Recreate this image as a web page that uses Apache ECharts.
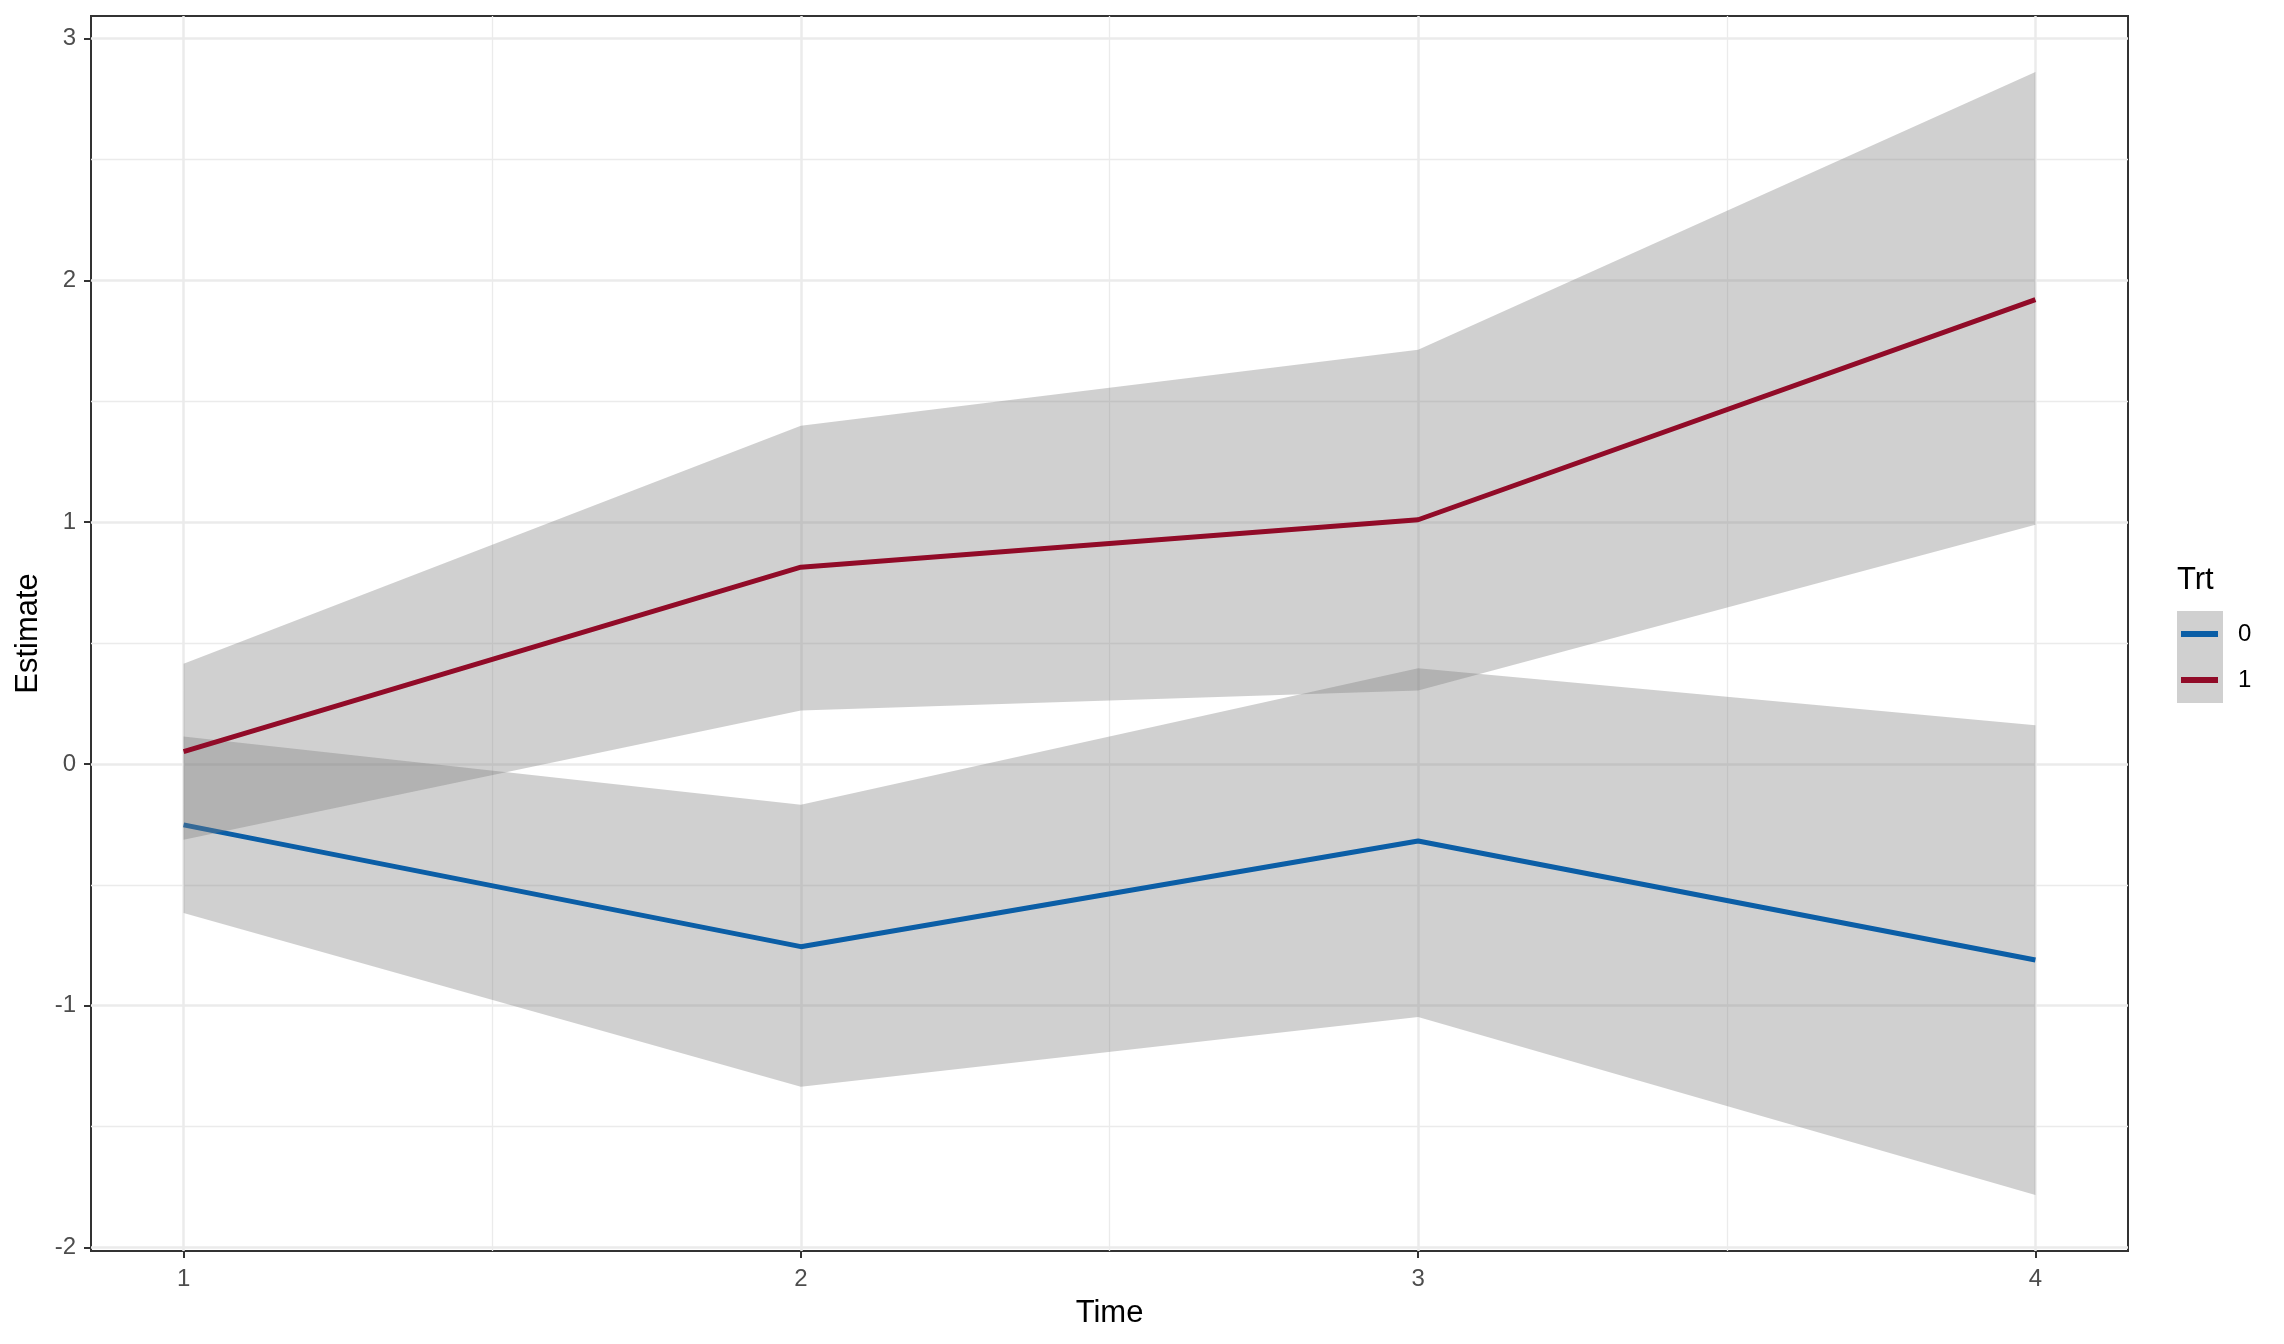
<!DOCTYPE html>
<html>
<head>
<meta charset="utf-8">
<script src="https://cdn.jsdelivr.net/npm/echarts@6/dist/echarts.min.js"></script>
<style>
html,body{margin:0;padding:0;background:#fff;}
#chart{width:2284px;height:1344px;}
</style>
</head>
<body>
<div id="chart"></div>
<script>
// ---- data ----
const time = [1, 2, 3, 4];
const est0 = [-0.252, -0.756, -0.319, -0.811];
const lo0  = [-0.617, -1.336, -1.047, -1.783];
const hi0  = [0.113, -0.169, 0.396, 0.160];
const est1 = [0.051, 0.814, 1.010, 1.921];
const lo1  = [-0.314, 0.221, 0.304, 0.989];
const hi1  = [0.414, 1.399, 1.713, 2.862];
const xTicks = [1, 2, 3, 4];
const xMinor = [1.5, 2.5, 3.5];
const yTicks = [-2, -1, 0, 1, 2, 3];
const yMinor = [-1.5, -0.5, 0.5, 1.5, 2.5];
const groups = ['0', '1'];

const FONT = 'Liberation Sans, Arial, Helvetica, sans-serif';
const BLUE = '#0B5EA6';
const RED = '#910B28';
const RIBBON = 'rgba(125,125,125,0.36)';

const chart = echarts.init(document.getElementById('chart'));

function ribbon(lo, hi, z) {
  return {
    type: 'custom',
    z: z,
    silent: true,
    data: time.map((t, i) => [t, lo[i], hi[i]]),
    encode: { x: 0, y: [1, 2] },
    renderItem: function (params, api) {
      if (params.dataIndex !== 0) return null;
      const pts = [];
      for (let i = 0; i < time.length; i++) pts.push(api.coord([time[i], hi[i]]));
      for (let i = time.length - 1; i >= 0; i--) pts.push(api.coord([time[i], lo[i]]));
      return { type: 'polygon', shape: { points: pts }, style: { fill: RIBBON } };
    }
  };
}

function line(name, est, color, z) {
  return {
    type: 'line',
    name: name,
    z: z,
    data: time.map((t, i) => [t, est[i]]),
    showSymbol: false,
    symbol: 'none',
    color: color,
    lineStyle: { color: color, width: 5 },
    itemStyle: { color: color },
    emphasis: { disabled: true },
    animation: false
  };
}

const xMin = 0.85, xMax = 4.15, yMin = -2.015, yMax = 3.094;

const option = {
  animation: false,
  textStyle: { fontFamily: FONT },
  grid: {
    left: 91, right: 156, top: 16, bottom: 93,
    outerBoundsMode: 'none',
    containLabel: false,
    show: true, borderColor: '#333333', borderWidth: 2, backgroundColor: 'transparent'
  },
  xAxis: [
    {
      type: 'value', min: xMin, max: xMax, position: 'bottom',
      name: 'Time', nameLocation: 'middle', nameGap: 47,
      nameTextStyle: { fontSize: 31, color: '#000', fontFamily: FONT },
      axisLine: { show: false, onZero: false },
      axisTick: { show: true, length: 7, lineStyle: { color: '#333', width: 2 }, customValues: xTicks },
      axisLabel: { customValues: xTicks, fontSize: 24, color: '#4D4D4D', margin: 16, fontFamily: FONT },
      splitLine: { show: true, lineStyle: { color: '#EBEBEB', width: 2.5 } }
    },
    {
      type: 'value', min: xMin, max: xMax, position: 'top',
      axisLine: { show: false, onZero: false },
      axisTick: { show: false, customValues: xMinor },
      axisLabel: { show: false, customValues: xMinor },
      splitLine: { show: true, lineStyle: { color: '#EBEBEB', width: 1.3 } }
    }
  ],
  yAxis: [
    {
      type: 'value', min: yMin, max: yMax, position: 'left',
      name: 'Estimate', nameLocation: 'middle', nameGap: 46, nameRotate: 90,
      nameTextStyle: { fontSize: 31, color: '#000', fontFamily: FONT },
      axisLine: { show: false, onZero: false },
      axisTick: { show: true, length: 7, lineStyle: { color: '#333', width: 2 }, customValues: yTicks },
      axisLabel: { customValues: yTicks, fontSize: 24, color: '#4D4D4D', margin: 15, fontFamily: FONT },
      splitLine: { show: true, lineStyle: { color: '#EBEBEB', width: 2.5 } }
    },
    {
      type: 'value', min: yMin, max: yMax, position: 'right',
      axisLine: { show: false, onZero: false },
      axisTick: { show: false, customValues: yMinor },
      axisLabel: { show: false, customValues: yMinor },
      splitLine: { show: true, lineStyle: { color: '#EBEBEB', width: 1.3 } }
    }
  ],
  legend: {
    data: groups,
    orient: 'vertical',
    left: 2181, top: 611,
    padding: 0,
    itemGap: 0,
    itemWidth: 37, itemHeight: 6,
    icon: 'rect',
    selectedMode: false,
    textStyle: { fontSize: 24, color: '#000', lineHeight: 46, fontFamily: FONT, padding: [0, 0, 0, 15] }
  },
  graphic: [
    { type: 'rect', z: 0, silent: true, shape: { x: 2177, y: 611, width: 46, height: 92 }, style: { fill: '#D0D0D0' } },
    { type: 'text', z: 1, silent: true, x: 2177, y: 580,
      style: { text: 'Trt', font: '31px ' + FONT, fill: '#000', verticalAlign: 'middle', align: 'left' } }
  ],
  series: [
    ribbon(lo0, hi0, 2),
    line(groups[0], est0, BLUE, 3),
    ribbon(lo1, hi1, 4),
    line(groups[1], est1, RED, 5)
  ]
};
chart.setOption(option);
</script>
</body>
</html>
